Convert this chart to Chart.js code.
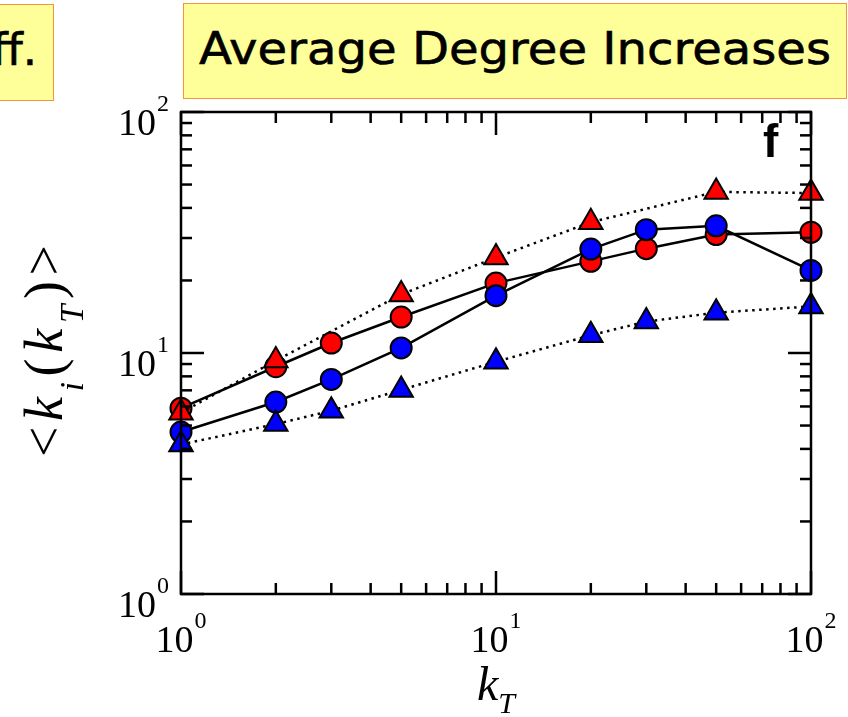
<!DOCTYPE html>
<html><head><meta charset="utf-8">
<script src="https://cdn.jsdelivr.net/npm/chart.js@4.4.1/dist/chart.umd.min.js"></script>
<style>
html,body{margin:0;padding:0;background:#fff;}
#wrap{position:relative;width:848px;height:717px;overflow:hidden;background:#fff;}
#c{position:absolute;left:0;top:0;}
.box{position:absolute;background:#FFFF99;border:1.5px solid #F7923A;box-sizing:border-box;overflow:hidden;}
.box span{position:absolute;font-family:'DejaVu Sans';font-size:45px;line-height:45px;color:#000;white-space:nowrap;transform-origin:left top;-webkit-text-stroke:0.6px #000;}
</style></head>
<body><div id="wrap">
<canvas id="c" width="848" height="717"></canvas>
<div class="box" style="left:-6px;top:4px;width:60px;height:97px;"><span id="t1" style="right:16px;top:22px;">ff.</span></div>
<div class="box" style="left:183px;top:3px;width:664px;height:96px;"><span id="t2" style="left:15px;top:22px;">Average Degree Increases</span></div>
</div>
<script>
// ---- data ----
const kT = [1, 2, 3, 5, 10, 20, 30, 50, 100];
const redCircles    = [5.9, 8.77, 11.0, 14.1, 19.5, 24.0, 27.1, 31.0, 31.7];
const blueCircles   = [4.70, 6.26, 7.77, 10.5, 17.3, 27.0, 32.5, 33.7, 22.0];
const redTriangles  = [5.65, 9.3, null, 17.5, 24.9, 34.9, null, 46.6, 46.1];
const blueTriangles = [4.17, 5.07, 5.76, 7.03, 9.2, 11.85, 13.5, 14.7, 15.6];
const majorTicks = [1, 10, 100];
const minorTicks = [2, 3, 4, 5, 6, 7, 8, 9, 20, 30, 40, 50, 60, 70, 80, 90];
const tickExponents = ['0', '1', '2'];
const panelLabel = 'f';

// fit header text width
(function(){
  const t2 = document.getElementById('t2');
  const w = t2.getBoundingClientRect().width;
  t2.style.transform = 'scaleX(' + (632 / w) + ')';
})();

function pts(arr){ return kT.map((k,i)=>({x:k, y:arr[i]})).filter(p=>p.y!==null); }

const BASE_FONT = '38px "Liberation Serif"';
const SUP_FONT = '24px "Liberation Serif"';

function seg(ctx,x1,y1,x2,y2){ctx.beginPath();ctx.moveTo(x1,y1);ctx.lineTo(x2,y2);ctx.stroke();}
function powLabel(ctx, x, yBase, exp, align){
  ctx.font = BASE_FONT; const wb = ctx.measureText('10').width;
  ctx.font = SUP_FONT; const ws = ctx.measureText(exp).width;
  const total = wb + 1 + ws;
  const left = align === 'right' ? x - total : x - total/2;
  ctx.textAlign = 'left'; ctx.textBaseline = 'alphabetic'; ctx.fillStyle = '#000';
  ctx.font = BASE_FONT; ctx.fillText('10', left, yBase);
  ctx.font = SUP_FONT; ctx.fillText(exp, left + wb + 1, yBase - 24);
}

const framePlugin = {
  id: 'frame',
  afterDatasetsDraw(chart){
    const {ctx, chartArea:a, scales:{x, y}} = chart;
    ctx.save();
    ctx.strokeStyle = '#000'; ctx.lineWidth = 2.5; ctx.lineCap = 'butt';
    ctx.strokeRect(a.left, a.top, a.right - a.left, a.bottom - a.top);
    const tick = (v, len) => {
      const px = x.getPixelForValue(v);
      seg(ctx, px, a.bottom, px, a.bottom - len);
      seg(ctx, px, a.top, px, a.top + len);
      const py = y.getPixelForValue(v);
      seg(ctx, a.left, py, a.left + len, py);
      seg(ctx, a.right, py, a.right - len, py);
    };
    majorTicks.forEach(v => tick(v, 23));
    minorTicks.forEach(v => tick(v, 11));
    // tick labels
    majorTicks.forEach((v, i) => {
      const py = y.getPixelForValue(v);
      powLabel(ctx, a.left - 12, py + 23, tickExponents[i], 'right');
      const px = x.getPixelForValue(v);
      powLabel(ctx, px, a.bottom + 58, tickExponents[i], 'center');
    });
    // x title k_T
    ctx.fillStyle = '#000'; ctx.textBaseline = 'alphabetic'; ctx.textAlign = 'left';
    const xc = x.getPixelForValue(10);
    ctx.font = 'italic 48px "Liberation Serif"'; const wk = ctx.measureText('k').width;
    ctx.font = 'italic 30px "Liberation Serif"'; const wt = ctx.measureText('T').width;
    const x0 = xc - (wk + wt) / 2;
    ctx.font = 'italic 48px "Liberation Serif"'; ctx.fillText('k', x0, a.bottom + 106);
    ctx.font = 'italic 30px "Liberation Serif"'; ctx.fillText('T', x0 + wk, a.bottom + 119);
    // y title <k_i(k_T)>
    const pieces = [['<','54px',0],['k','italic 54px',0],['i','italic 33px',21],['(','54px',0],['k','italic 54px',0],['T','italic 33px',21],[')','54px',0],['>','54px',0]];
    let nat = 0;
    pieces.forEach(p => { ctx.font = p[1] + ' "Liberation Serif"'; p.push(ctx.measureText(p[0]).width); nat += p[3]; });
    const target = 212;
    const gap = Math.max(0, (target - nat) / (pieces.length - 1));
    ctx.save();
    ctx.translate(62, (a.top + a.bottom) / 2 - 2);
    ctx.rotate(-Math.PI / 2);
    let u = -(nat + gap * (pieces.length - 1)) / 2;
    pieces.forEach(p => { ctx.font = p[1] + ' "Liberation Serif"'; ctx.fillText(p[0], u, p[2]); u += p[3] + gap; });
    ctx.restore();
    // panel label
    ctx.font = 'bold 46px "Liberation Sans"';
    ctx.fillText(panelLabel, a.right - 48, a.top + 45);
    ctx.restore();
  }
};

const dotted = [2.5, 4.5];
new Chart(document.getElementById('c'), {
  type: 'line',
  data: {
    datasets: [
      {label:'red triangles', data: pts(redTriangles), borderColor:'#000', borderWidth:2.5, borderDash:dotted,
       pointStyle:'triangle', pointRadius:13.5, pointBackgroundColor:'#FF0000', pointBorderColor:'#000', pointBorderWidth:2, spanGaps:true, clip:false},
      {label:'blue triangles', data: pts(blueTriangles), borderColor:'#000', borderWidth:2.5, borderDash:dotted,
       pointStyle:'triangle', pointRadius:13.5, pointBackgroundColor:'#0000FF', pointBorderColor:'#000', pointBorderWidth:2, clip:false},
      {label:'blue circles', data: pts(blueCircles), borderColor:'#000', borderWidth:2.5,
       pointStyle:'circle', pointRadius:10.5, pointBackgroundColor:'#0000FF', pointBorderColor:'#000', pointBorderWidth:2, clip:false},
      {label:'red circles', data: pts(redCircles), borderColor:'#000', borderWidth:2.5,
       pointStyle:'circle', pointRadius:10.5, pointBackgroundColor:'#FF0000', pointBorderColor:'#000', pointBorderWidth:2, clip:false}
    ]
  },
  options: {
    responsive: false,
    animation: false,
    layout: {padding: {left: 181, right: 37, top: 112, bottom: 123}},
    plugins: {legend: {display: false}, tooltip: {enabled: false}},
    elements: {line: {tension: 0, fill: false}},
    scales: {
      x: {type: 'logarithmic', min: 1, max: 100, display: false},
      y: {type: 'logarithmic', min: 1, max: 100, display: false}
    }
  },
  plugins: [framePlugin]
});
</script>
</body></html>
